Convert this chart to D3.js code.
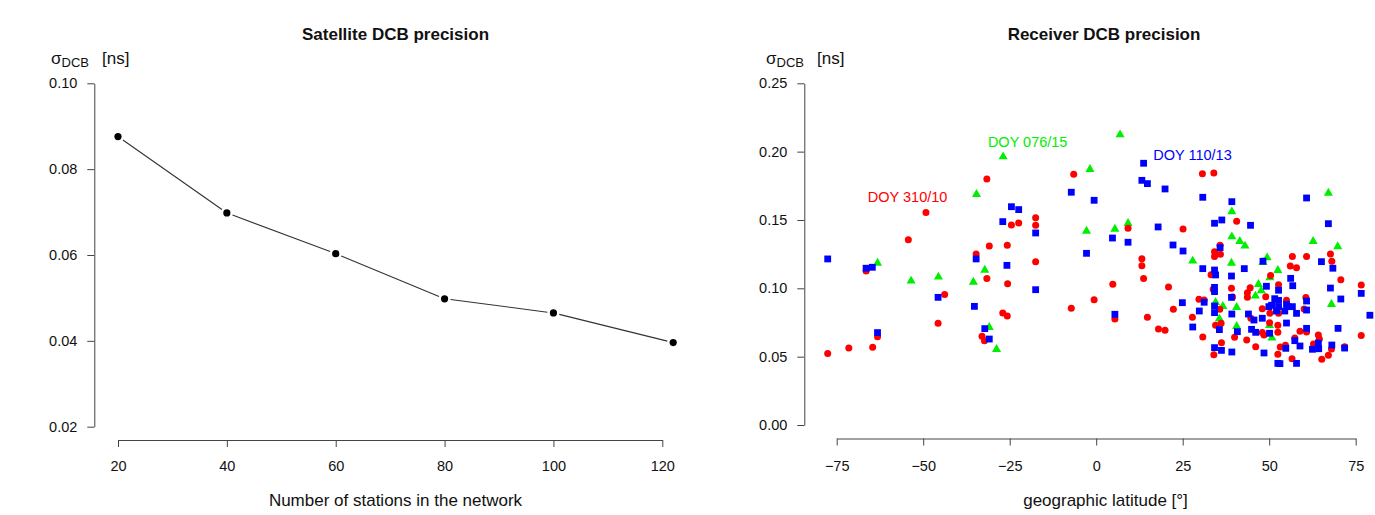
<!DOCTYPE html>
<html>
<head>
<meta charset="utf-8">
<script src="https://cdn.jsdelivr.net/npm/d3@7"></script>
<style>
  html, body { margin: 0; padding: 0; background: #fff; }
  svg { display: block; }
  text { font-family: "Liberation Sans", Arial, Helvetica, sans-serif; fill: #111; }
</style>
</head>
<body>
<script>
// ---------- Data: left panel ----------
const stations = [20, 40, 60, 80, 100, 122];
const satPrecision = [0.0876, 0.0698, 0.0603, 0.0498, 0.0465, 0.0396];
const leftXTicks = [20, 40, 60, 80, 100, 120];
const leftYTicks = [0.02, 0.04, 0.06, 0.08, 0.10];

// ---------- Data: right panel (latitude [deg], sigma [ns]) ----------
const redLat = [-77.6,-71.5,-66.5,-64.6,-63.2,-54.3,-49.2,-45.7,-43.8,-34.7,-31.6,-31.6,-30.9,-33.0,-32.3,-27.0,-25.7,-25.7,-25.6,-24.5,-22.4,-17.5,-17.5,-17.5,-6.5,9.2,13.2,13.2,13.7,4.8,-0.6,-7.2,5.4,14.8,30.7,34.0,40.6,25.1,56.7,60.8,67.7,68.1,56.1,57.9,70.7,76.6,76.6,71.8,50.4,52.7,44.5,43.7,43.7,49.0,55.0,60.6,48.0,60.1,50.2,52.7,44.7,52.5,50.1,52.5,48.0,48.5,58.9,60.8,43.5,46.1,57.4,64.2,64.5,62.8,68.0,53.2,54.7,52.5,56.6,65.2,67.1,35.8,34.2,35.9,34.2,33.2,20.9,33.8,39.1,39.4,29.7,31.2,22.3,35.7,27.8,34.5,36.1,18.0,19.9,30.8,40.0,36.2,34.0];
const redSigma = [0.0524,0.0563,0.1127,0.0568,0.0646,0.1356,0.1554,0.0744,0.0954,0.1251,0.1800,0.1071,0.1310,0.0649,0.0617,0.0819,0.0798,0.1315,0.1034,0.1463,0.1478,0.1517,0.1461,0.1195,0.1834,0.1439,0.1217,0.1166,0.1071,0.1029,0.0917,0.0854,0.0776,0.0788,0.1839,0.1844,0.1490,0.1434,0.1232,0.1232,0.1251,0.1198,0.1163,0.1151,0.1063,0.1024,0.0654,0.0573,0.1093,0.1027,0.1005,0.0968,0.0934,0.0939,0.0912,0.0932,0.0851,0.0849,0.0817,0.0817,0.0781,0.0729,0.0749,0.0678,0.0676,0.0659,0.0686,0.0680,0.0622,0.0573,0.0637,0.0659,0.0629,0.0593,0.0556,0.0571,0.0583,0.0517,0.0485,0.0481,0.0510,0.1315,0.1268,0.1249,0.1232,0.1100,0.1010,0.0993,0.1000,0.0937,0.0920,0.0915,0.0846,0.0846,0.0788,0.0729,0.0744,0.0702,0.0693,0.0644,0.0642,0.0602,0.0514];

const greenLat = [-63.2,-53.5,-45.6,-34.6,-35.5,-32.2,-30.9,-28.8,-26.9,6.9,-1.8,9.2,-2.8,5.4,67.1,39.2,39.2,41.5,43.0,62.7,69.8,68.0,49.4,48.2,52.5,50.2,46.9,47.7,46.0,50.1,50.8,27.9,39.1,34.5,36.6,40.6,35.6,40.6];
const greenSigma = [0.1185,0.1054,0.1083,0.1688,0.1046,0.1134,0.0715,0.0554,0.1963,0.2124,0.1871,0.1476,0.1419,0.1434,0.1697,0.1561,0.1378,0.1344,0.1310,0.1344,0.1305,0.0883,0.1224,0.1190,0.1132,0.1078,0.1029,0.0983,0.0944,0.0729,0.0637,0.1200,0.1185,0.0898,0.0868,0.0861,0.0778,0.0722];

const blueLat = [-77.6,-66.5,-64.7,-63.2,-45.7,-35.2,-34.7,-32.2,-30.9,-27.0,-24.5,-22.4,-25.8,-17.5,-17.5,13.7,13.2,14.8,-7.2,-0.6,4.7,9.2,-2.8,5.4,19.9,30.8,39.2,60.8,34.2,36.3,44.6,67.1,17.9,65.1,68.4,76.6,79.1,67.7,70.7,69.9,71.8,48.2,56.2,56.8,49.2,52.7,51.6,52.7,60.8,50.7,49.9,52.7,55.0,55.3,56.7,54.5,52.1,57.9,60.8,44.0,45.6,48.0,55.0,44.9,46.1,50.1,60.8,57.4,58.9,64.2,62.5,64.3,68.1,54.8,48.5,52.5,53.1,57.9,22.2,25.1,35.8,30.8,34.2,42.8,34.5,39.1,34.2,34.2,39.1,31.2,24.9,29.8,34.2,34.2,39.2,27.9,35.6,40.8,34.2,36.2,39.2];
const blueSigma = [0.1215,0.1147,0.1154,0.0676,0.0934,0.0868,0.1215,0.0705,0.0629,0.1488,0.1597,0.1576,0.1168,0.1405,0.0990,0.1915,0.1790,0.1766,0.1703,0.1644,0.1368,0.1337,0.1256,0.0810,0.1727,0.1666,0.1634,0.1661,0.1476,0.1500,0.1461,0.1473,0.1449,0.1195,0.1147,0.0963,0.0803,0.1002,0.0922,0.0707,0.0563,0.1198,0.1073,0.1019,0.1015,0.0986,0.0924,0.0912,0.0907,0.0876,0.0866,0.0866,0.0883,0.0866,0.0866,0.0834,0.0834,0.0817,0.0841,0.0812,0.0768,0.0781,0.0746,0.0700,0.0678,0.0671,0.0707,0.0617,0.0578,0.0600,0.0554,0.0558,0.0585,0.0561,0.0527,0.0451,0.0449,0.0451,0.1317,0.1273,0.1298,0.1144,0.1134,0.1144,0.1098,0.1090,0.1007,0.0976,0.0934,0.0898,0.0895,0.0834,0.0871,0.0822,0.0812,0.0717,0.0698,0.0683,0.0566,0.0546,0.0534];

const rightXTicks = [-75, -50, -25, 0, 25, 50, 75];
const rightYTicks = [0.00, 0.05, 0.10, 0.15, 0.20, 0.25];

const seriesLabels = ["DOY 310/10", "DOY 076/15", "DOY 110/13"];
const seriesColors = ["#ff0000", "#00ee00", "#0000ff"];

// ---------- Drawing ----------
const W = 1375, H = 515;
const svg = d3.select("body").append("svg").attr("width", W).attr("height", H);

const TICK_FONT = "14.5px";
const LAB_FONT = "17px";

function styleAxis(g) {
  g.selectAll("path.domain").attr("stroke", "#444").attr("stroke-width", 1);
  g.selectAll(".tick line").attr("stroke", "#444").attr("stroke-width", 1);
  g.selectAll(".tick text").style("font-family", '"Liberation Sans", Arial, sans-serif')
    .style("font-size", TICK_FONT).attr("fill", "#222");
}

function ylabel(x0, y0) {
  const g = svg.append("g");
  g.append("text").attr("x", x0).attr("y", y0).style("font-size", "17px").text("σ");
  g.append("text").attr("x", x0 + 10.5).attr("y", y0 + 3).style("font-size", "13px").text("DCB");
  g.append("text").attr("x", x0 + 51).attr("y", y0).style("font-size", "17px").text("[ns]");
}

// ----- Left panel -----
const xL = d3.scaleLinear().domain([20, 120]).range([118, 662.3]);
const yL = d3.scaleLinear().domain([0.02, 0.10]).range([426.7, 83.3]);
const axisYL = 94.3, axisXL = 440;

svg.append("g").attr("transform", `translate(0,${axisXL})`)
  .call(d3.axisBottom(xL).tickValues(leftXTicks).tickSize(7).tickSizeOuter(0).tickPadding(14).tickFormat(d3.format("d")))
  .call(styleAxis);
svg.append("g").attr("transform", `translate(${axisYL},0)`)
  .call(d3.axisLeft(yL).tickValues(leftYTicks).tickSize(7).tickSizeOuter(0).tickPadding(10).tickFormat(d3.format(".2f")))
  .call(styleAxis);

// line segments with gaps (type "b")
const ptsL = stations.map((s, i) => [xL(s), yL(satPrecision[i])]);
const gap = 6;
for (let i = 0; i < ptsL.length - 1; i++) {
  const [x1, y1] = ptsL[i], [x2, y2] = ptsL[i + 1];
  const dx = x2 - x1, dy = y2 - y1, len = Math.hypot(dx, dy);
  const ux = dx / len, uy = dy / len;
  svg.append("line")
    .attr("x1", x1 + ux * gap).attr("y1", y1 + uy * gap)
    .attr("x2", x2 - ux * gap).attr("y2", y2 - uy * gap)
    .attr("stroke", "#333").attr("stroke-width", 1.1);
}
svg.append("g").selectAll("circle").data(stations).join("circle")
  .attr("cx", d => xL(d)).attr("cy", (d, i) => yL(satPrecision[i]))
  .attr("r", 3.6).attr("fill", "#000");

svg.append("text").attr("x", 395.5).attr("y", 40).attr("text-anchor", "middle")
  .style("font-size", LAB_FONT).style("font-weight", "bold").text("Satellite DCB precision");
svg.append("text").attr("x", 395.5).attr("y", 506).attr("text-anchor", "middle")
  .style("font-size", LAB_FONT).text("Number of stations in the network");
ylabel(51, 64);

// ----- Right panel -----
const xR = d3.scaleLinear().domain([-75, 75]).range([836.7, 1355.7]);
const yR = d3.scaleLinear().domain([0, 0.25]).range([425, 83.3]);
const axisYR = 804.3, axisXR = 438.5;

svg.append("g").attr("transform", `translate(0,${axisXR})`)
  .call(d3.axisBottom(xR).tickValues(rightXTicks).tickSize(7).tickSizeOuter(0).tickPadding(15).tickFormat(d3.format("d")))
  .call(styleAxis);
svg.append("g").attr("transform", `translate(${axisYR},0)`)
  .call(d3.axisLeft(yR).tickValues(rightYTicks).tickSize(7).tickSizeOuter(0).tickPadding(10).tickFormat(d3.format(".2f")))
  .call(styleAxis);

const plotR = svg.append("g");
// green triangles
plotR.append("g").selectAll("path").data(greenLat).join("path")
  .attr("d", d3.symbol().type(d3.symbolTriangle).size(36)())
  .attr("transform", (d, i) => `translate(${xR(d)},${yR(greenSigma[i])})`)
  .attr("fill", seriesColors[1]);
// red circles
plotR.append("g").selectAll("circle").data(redLat).join("circle")
  .attr("cx", d => xR(d)).attr("cy", (d, i) => yR(redSigma[i]))
  .attr("r", 3.5).attr("fill", seriesColors[0]);
// blue squares
plotR.append("g").selectAll("rect").data(blueLat).join("rect")
  .attr("x", d => xR(d) - 3.4).attr("y", (d, i) => yR(blueSigma[i]) - 3.4)
  .attr("width", 6.8).attr("height", 6.8).attr("fill", seriesColors[2]);

// series labels
svg.append("text").attr("x", xR(-66)).attr("y", yR(0.1635)).style("font-size", TICK_FONT)
  .style("fill", seriesColors[0]).text(seriesLabels[0]);
svg.append("text").attr("x", xR(-31.3)).attr("y", yR(0.2035)).style("font-size", TICK_FONT)
  .style("fill", seriesColors[1]).text(seriesLabels[1]);
svg.append("text").attr("x", xR(16.5)).attr("y", yR(0.1938)).style("font-size", TICK_FONT)
  .style("fill", seriesColors[2]).text(seriesLabels[2]);

svg.append("text").attr("x", 1104).attr("y", 40).attr("text-anchor", "middle")
  .style("font-size", LAB_FONT).style("font-weight", "bold").text("Receiver DCB precision");
svg.append("text").attr("x", 1105.5).attr("y", 506).attr("text-anchor", "middle")
  .style("font-size", LAB_FONT).text("geographic latitude [°]");
ylabel(766, 64);
</script>
</body>
</html>
